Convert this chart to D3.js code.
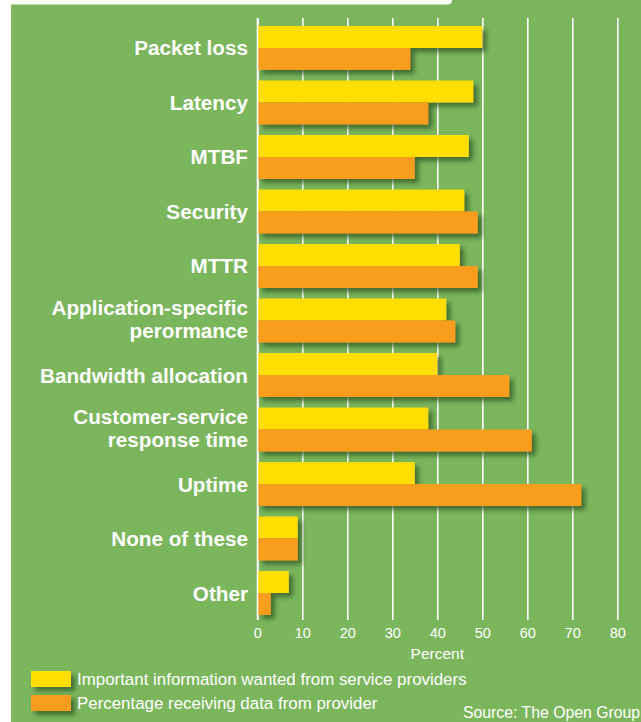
<!DOCTYPE html>
<html>
<head>
<meta charset="utf-8">
<script src="https://cdn.jsdelivr.net/npm/d3@7"></script>
<style>
  html, body { margin: 0; padding: 0; background: #fff; }
  svg { display: block; }
</style>
</head>
<body>
<div id="chart"></div>
<script>
var width = 641,
    height = 722;

var categories = [
    ["Packet loss"],
    ["Latency"],
    ["MTBF"],
    ["Security"],
    ["MTTR"],
    ["Application-specific", "perormance"],
    ["Bandwidth allocation"],
    ["Customer-service", "response time"],
    ["Uptime"],
    ["None of these"],
    ["Other"]
];
var wanted   = [50, 48, 47, 46, 45, 42, 40, 38, 35, 9, 7];
var received = [34, 38, 35, 49, 49, 44, 56, 61, 72, 9, 3];
var xTicks = [0, 10, 20, 30, 40, 50, 60, 70, 80];
var seriesNames = ["Important information wanted from service providers",
                   "Percentage receiving data from provider"];
var seriesColors = ["#ffde00", "#f89d1f"];

var green = "#7bb65d";

var svg = d3.select("#chart")
    .append("svg")
        .attr("width", width)
        .attr("height", height);

// drop shadow used by the bars and legend swatches
var defs = svg.append("defs");
var shadow = defs.append("filter")
    .attr("id", "shadow")
    .attr("x", "-20%").attr("y", "-30%")
    .attr("width", "160%").attr("height", "180%");
shadow.append("feDropShadow")
    .attr("dx", 4).attr("dy", 4)
    .attr("stdDeviation", 2.5)
    .attr("flood-color", "#2f5420")
    .attr("flood-opacity", 0.75);

// background panel
svg.append("rect")
    .attr("x", 9).attr("y", 0)
    .attr("width", width - 9).attr("height", height)
    .attr("fill", green);
svg.append("rect")
    .attr("x", 9).attr("y", 4)
    .attr("width", 2).attr("height", height - 4)
    .attr("fill", "#4d6c3a");
// white tab at the top
svg.append("path")
    .attr("d", "M0,0 H452 V0.5 Q452,4.5 447,4.5 H11 V722 H0 Z")
    .attr("fill", "#fff");

var x = d3.scaleLinear()
    .domain([0, 80])
    .range([257.3, 617.3]);

var y = d3.scaleBand()
    .domain(d3.range(categories.length))
    .range([26, 615])
    .paddingInner(0.193)
    .paddingOuter(0);

var bh = y.bandwidth() / 2;

// grid + tick labels
var axis = svg.append("g")
    .attr("transform", "translate(0,620)")
    .call(d3.axisBottom(x)
        .tickValues(xTicks)
        .tickSizeInner(-602)
        .tickSizeOuter(0)
        .tickPadding(8));
axis.select(".domain").remove();
axis.selectAll(".tick line")
    .attr("stroke", "#fff")
    .attr("stroke-width", function(d) { return d === 0 ? 2.2 : 1.6; });
axis.selectAll(".tick text")
    .attr("fill", "#fff")
    .style("font-family", "'Liberation Sans', Arial, sans-serif")
    .style("font-size", "14.5px");

svg.append("text")
    .attr("x", x(40))
    .attr("y", 659)
    .attr("text-anchor", "middle")
    .attr("fill", "#fff")
    .style("font-family", "'Liberation Sans', Arial, sans-serif")
    .style("font-size", "15.5px")
    .text("Percent");

// bars
var bars = svg.append("g").attr("filter", "url(#shadow)");
[wanted, received].forEach(function(vals, s) {
    bars.selectAll(".bar" + s)
        .data(vals)
        .enter()
        .append("rect")
        .attr("class", "bar" + s)
        .attr("x", x(0) + 1)
        .attr("y", function(d, i) { return y(i) + s * bh; })
        .attr("width", function(d) { return x(d) - x(0) - 1; })
        .attr("height", bh)
        .attr("fill", seriesColors[s]);
});

// category labels
var labels = svg.append("g")
    .selectAll("text")
    .data(categories)
    .enter()
    .append("text")
    .attr("x", 248)
    .attr("y", function(d, i) { return y(i) + y.bandwidth() / 2 + 7.5 - (d.length - 1) * 13.5; })
    .attr("text-anchor", "end")
    .attr("fill", "#fff")
    .style("font-family", "'Liberation Sans', Arial, sans-serif")
    .style("font-weight", "bold")
    .style("font-size", "20.7px");
labels.selectAll("tspan")
    .data(function(d) { return d; })
    .enter()
    .append("tspan")
    .attr("x", 248)
    .attr("dy", function(d, j) { return j === 0 ? 0 : 23; })
    .text(function(d) { return d; });

// legend
var legend = svg.append("g");
seriesNames.forEach(function(name, s) {
    legend.append("rect")
        .attr("x", 31)
        .attr("y", 671 + s * 24)
        .attr("width", 40)
        .attr("height", 16)
        .attr("fill", seriesColors[s])
        .attr("filter", "url(#shadow)");
    legend.append("text")
        .attr("x", 77)
        .attr("y", 685 + s * 24)
        .attr("fill", "#fff")
        .style("font-family", "'Liberation Sans', Arial, sans-serif")
        .style("font-size", "16.9px")
        .text(name);
});

svg.append("text")
    .attr("x", 463)
    .attr("y", 718)
    .attr("fill", "#fff")
    .style("font-family", "'Liberation Sans', Arial, sans-serif")
    .style("font-size", "15.8px")
    .text("Source: The Open Group");
</script>
</body>
</html>
